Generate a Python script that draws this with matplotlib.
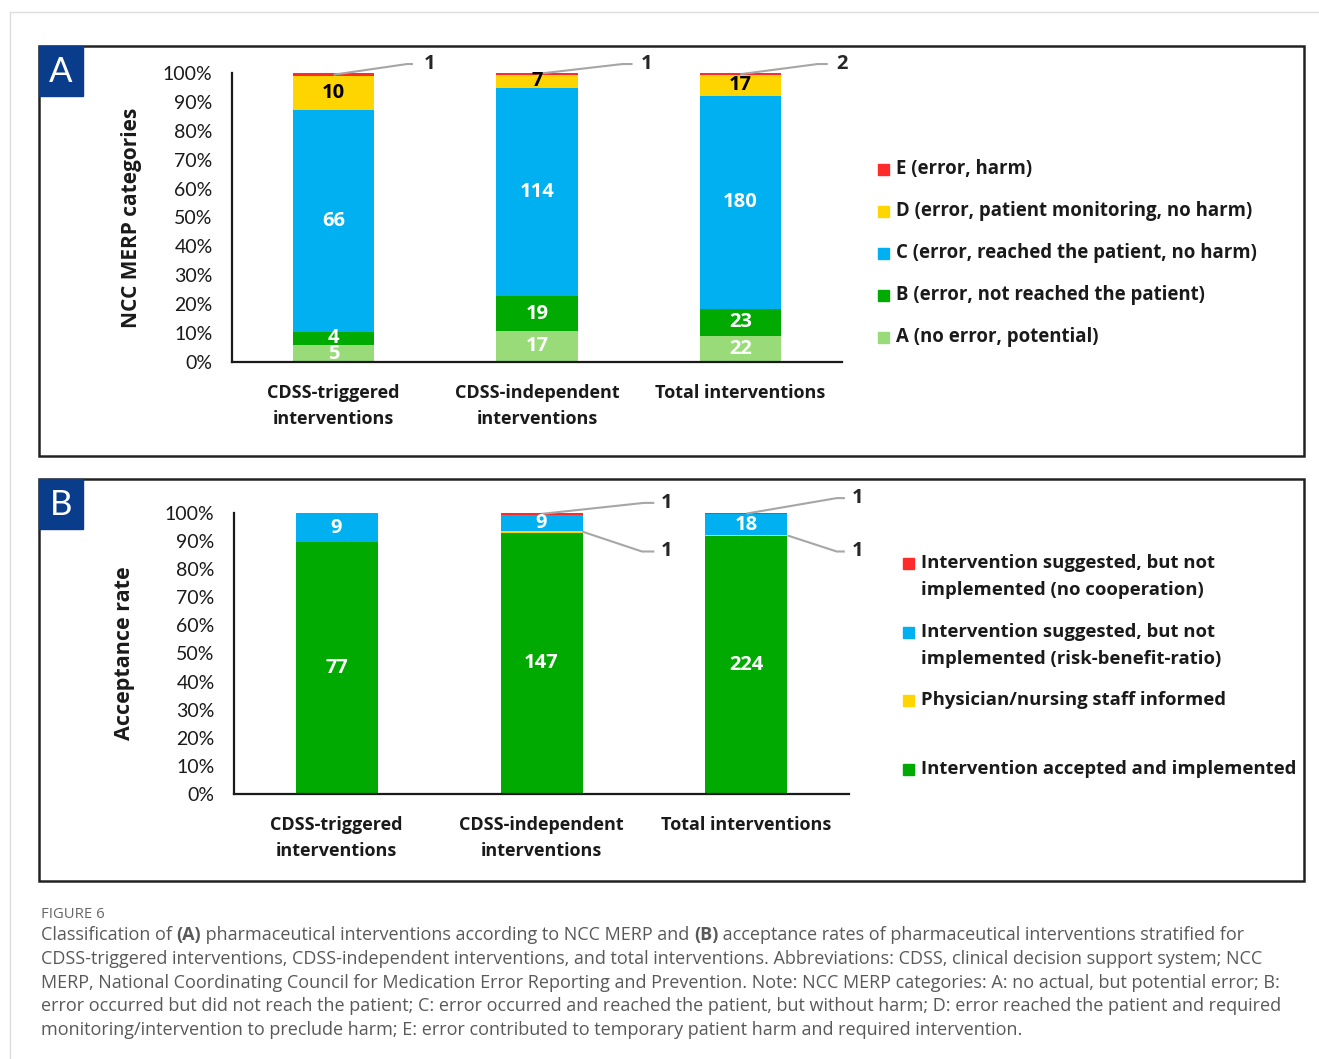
import numpy as np
import matplotlib
matplotlib.use("Agg")
import matplotlib.pyplot as plt
from matplotlib.patches import Rectangle

plt.rcParams["font.family"] = ["Lato", "DejaVu Sans"]

W, H = 1319, 1059

groups = ["CDSS-triggered\ninterventions", "CDSS-independent\ninterventions", "Total interventions"]

# A: NCC MERP Kategorien (Anzahl)
merp_labels = [
    "A (no error, potential)",
    "B (error, not reached the patient)",
    "C (error, reached the patient, no harm)",
    "D (error, patient monitoring, no harm)",
    "E (error, harm)",
]
merp_a = [5, 17, 22]
merp_b = [4, 19, 23]
merp_c = [66, 114, 180]
merp_d = [10, 7, 17]
merp_e = [1, 1, 2]

# B: Akzeptanz (Anzahl)
acc_labels = [
    "Intervention accepted and implemented",
    "Physician/nursing staff informed",
    "Intervention suggested, but not\nimplemented (risk-benefit-ratio)",
    "Intervention suggested, but not\nimplemented (no cooperation)",
]
acc_accepted = [77, 147, 224]
acc_informed = [0, 1, 1]
acc_riskbenefit = [9, 9, 18]
acc_nocoop = [0, 1, 1]

c_red = "#FF2B2B"
c_yellow = "#FFD500"
c_blue = "#00B0F0"
c_green = "#00AA00"
c_lightgreen = "#99DB78"
c_leader = "#A6A6A6"
c_dark = "#262626"

BOLD = dict(family="Open Sans", fontweight="bold")

fig = plt.figure(figsize=(W / 100, H / 100), dpi=100)

# Hintergrund-Achse in Pixelkoordinaten (Rahmen, Legenden, Bildunterschrift)
bg = fig.add_axes([0, 0, 1, 1], zorder=0)
bg.set_xlim(0, W)
bg.set_ylim(H, 0)
bg.axis("off")


def px_axes(left, top, right, bottom):
    ax = fig.add_axes([left / W, 1 - bottom / H, (right - left) / W, (bottom - top) / H], zorder=2)
    ax.set_facecolor("none")
    return ax


def panel_frame(letter, left, top, right, bottom):
    bg.add_patch(Rectangle((left, top), right - left, bottom - top, fill=False, lw=1.8, ec="#222222"))
    bg.add_patch(Rectangle((left, top), 44, 50, color="#0A3C8C"))
    bg.text(left + 22, top + 26, letter, color="white", fontsize=25, ha="center", va="center")


def style_axes(ax):
    for s in ["top", "right"]:
        ax.spines[s].set_visible(False)
    for s in ["left", "bottom"]:
        ax.spines[s].set_linewidth(1.6)
        ax.spines[s].set_color("#1a1a1a")
    ax.set_ylim(0, 100)
    ax.set_xlim(-0.5, len(groups) - 0.5)
    ax.set_yticks(np.arange(0, 101, 10))
    ax.set_yticklabels([f"{v}%" for v in range(0, 101, 10)], fontsize=14, color="#1a1a1a")
    ax.set_xticks(np.arange(len(groups)))
    ax.set_xticklabels(groups, fontsize=13.0, color="#1a1a1a", linespacing=1.55, **BOLD)
    ax.tick_params(axis="y", length=0, pad=14)
    ax.tick_params(axis="x", length=0, pad=16)


def stacked(ax, series, colors, label_colors):
    totals = np.sum(series, axis=0)
    x = np.arange(len(groups))
    bottom = np.zeros(len(groups))
    segs = []
    for vals, col, tcol in zip(series, colors, label_colors):
        vals = np.array(vals)
        pct = vals / totals * 100
        ax.bar(x, pct, 0.4, bottom=bottom, color=col, zorder=2)
        if tcol is not None:
            for xi, b, p, v in zip(x, bottom, pct, vals):
                ax.text(xi, b + p / 2, str(v), ha="center", va="center", color=tcol,
                        fontsize=14.5, zorder=4, **BOLD)
        segs.append((bottom.copy(), pct, vals))
        bottom += pct
    return segs


def leader(ax, x0, y0, bend_dx, end_dx, text_dx, y_txt, xc, value):
    ax.plot([x0, xc + bend_dx, xc + end_dx], [y0, y_txt, y_txt], color=c_leader, lw=1.5,
            clip_on=False, zorder=3, solid_capstyle="butt")
    ax.text(xc + text_dx, y_txt, str(value), ha="center", va="center", fontsize=14.5,
            color=c_dark, clip_on=False, **BOLD)


# ---------------- Panel A ----------------
panel_frame("A", 39, 46, 1304, 456)
axA = px_axes(232, 73, 842, 362)
style_axes(axA)
segsA = stacked(axA, [merp_a, merp_b, merp_c, merp_d, merp_e],
                [c_lightgreen, c_green, c_blue, c_yellow, c_red],
                ["white", "white", "white", "black", None])
axA.set_ylabel("NCC MERP categories", fontsize=15, color="#1a1a1a", **BOLD)
axA.yaxis.set_label_coords((142 - 232) / 610, 0.5)

leadA = [(0.36, 0.39, 0.47, 103.1), (0.42, 0.47, 0.54, 103.1), (0.38, 0.43, 0.50, 103.1)]
b, p, v = segsA[4]
for i, (bdx, edx, tdx, yt) in enumerate(leadA):
    leader(axA, i, b[i] + p[i] / 2, bdx, edx, tdx, yt, i, v[i])

for k, (lab, col) in enumerate(zip(merp_labels[::-1], [c_red, c_yellow, c_blue, c_green, c_lightgreen])):
    y = 169 + k * 42
    bg.add_patch(Rectangle((878, y - 5.5), 11, 11, color=col))
    bg.text(896, y, lab, fontsize=13.4, va="center", ha="left", color="#1a1a1a", **BOLD)

# ---------------- Panel B ----------------
panel_frame("B", 39, 479, 1304, 881)
axB = px_axes(234, 513, 849, 794)
style_axes(axB)
segsB = stacked(axB, [acc_accepted, acc_informed, acc_riskbenefit, acc_nocoop],
                [c_green, c_yellow, c_blue, c_red],
                ["white", None, "white", None])
axB.set_ylabel("Acceptance rate", fontsize=15.5, color="#1a1a1a", **BOLD)
axB.yaxis.set_label_coords((135 - 234) / 615, 0.5)

lead_top = {1: (0.50, 0.55, 0.61, 103.6), 2: (0.44, 0.48, 0.54, 105.3)}
lead_low = {1: (0.49, 0.55, 0.61, 86.3), 2: (0.44, 0.48, 0.54, 86.3)}
b, p, v = segsB[3]
for i, (bdx, edx, tdx, yt) in lead_top.items():
    if v[i] > 0:
        leader(axB, i, b[i] + p[i] / 2, bdx, edx, tdx, yt, i, v[i])
b, p, v = segsB[1]
for i, (bdx, edx, tdx, yt) in lead_low.items():
    if v[i] > 0:
        leader(axB, i + 0.2, b[i] + p[i] / 2, bdx, edx, tdx, yt, i, v[i])

legB_y = [563, 632, 700, 769]
for lab, col, y in zip(acc_labels[::-1], [c_red, c_blue, c_yellow, c_green], legB_y):
    bg.add_patch(Rectangle((903, y - 5.5), 11, 11, color=col))
    for j, line in enumerate(lab.split("\n")):
        bg.text(921, y + j * 27, line, fontsize=13.3, va="center", ha="left",
                color="#1a1a1a", **BOLD)

# ---------------- Seitenlinien & Bildunterschrift ----------------
bg.plot([10, W], [12, 12], color="#dddddd", lw=1)
bg.plot([10, 10], [12, H], color="#dddddd", lw=1)

cap_color = "#595959"
bg.text(41, 915, "FIGURE 6", fontsize=10.7, color="#666666", va="center", ha="left", family="Open Sans")

line1 = [
    ("Classification of ", "normal"),
    ("(A)", "bold"),
    (" pharmaceutical interventions according to NCC MERP and ", "normal"),
    ("(B)", "bold"),
    (" acceptance rates of pharmaceutical interventions stratified for", "normal"),
]
cap_lines = [
    "CDSS-triggered interventions, CDSS-independent interventions, and total interventions. Abbreviations: CDSS, clinical decision support system; NCC",
    "MERP, National Coordinating Council for Medication Error Reporting and Prevention. Note: NCC MERP categories: A: no actual, but potential error; B:",
    "error occurred but did not reach the patient; C: error occurred and reached the patient, but without harm; D: error reached the patient and required",
    "monitoring/intervention to preclude harm; E: error contributed to temporary patient harm and required intervention.",
]
cap_fs = 13.0
prev = bg.text(41, 935, line1[0][0], fontsize=cap_fs, color=cap_color, va="center", ha="left",
               family="Open Sans", fontweight=line1[0][1])
for txt, wt in line1[1:]:
    prev = bg.annotate(txt, xy=(1, 0), xycoords=prev, va="bottom", ha="left", fontsize=cap_fs,
                       color=cap_color, family="Open Sans", fontweight=wt)
for k, line in enumerate(cap_lines):
    bg.text(41, 959 + k * 23.7, line, fontsize=cap_fs, color=cap_color, va="center", ha="left",
            family="Open Sans")

fig.savefig("out.png", dpi=100)
